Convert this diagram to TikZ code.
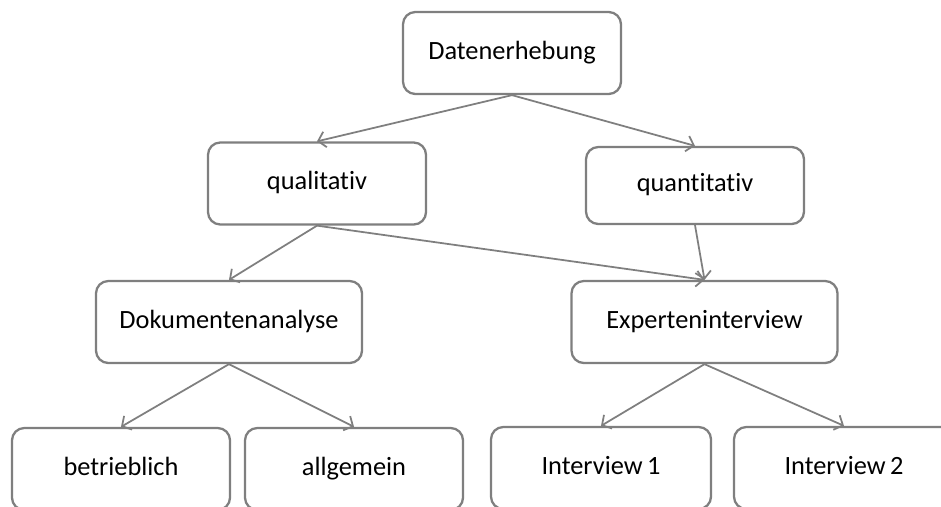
\documentclass[tikz,border=0pt]{standalone}
\usepackage{fontspec}
\setmainfont[Ligatures={NoCommon}]{Carlito}
\usepackage{tikz}
\usetikzlibrary{arrows.meta,positioning}
\definecolor{BoxGray}{HTML}{7F7F7F}

\begin{document}
\begin{tikzpicture}[
  box/.style={
    draw=BoxGray, line width=1.3pt, rounded corners=7pt, fill=white,
    minimum width=4.36cm, minimum height=1.64cm,
    text height=10.5pt, text depth=3.5pt,
    font=\fontsize{15}{17}\selectfont, align=center
  },
  wide/.style={box, minimum width=5.32cm},
  arr/.style={-{Straight Barb[length=4pt, width=9pt]}, line width=1pt, color=BoxGray}
]
\useasboundingbox (0,0) rectangle (18.82,10.12);
\clip (0,0) rectangle (18.82,10.12);

% top level
\node[box] (daten) at (10.24,9.06) {Datenerhebung};

% second level
\node[box] (quali) at (6.34,6.45) {qualitativ};
\node[box, minimum height=1.54cm] (quanti) at (13.90,6.41) {quantitativ};

% methods
\node[wide] (doku) at (4.58,3.68) {Dokumentenanalyse};
\node[wide] (experten) at (14.09,3.68) {Experteninterview};

% bottom row
\node[box] (betrieb) at (2.42,0.74) {betrieblich};
\node[box] (allg) at (7.08,0.74) {allgemein};
\node[box, minimum width=4.4cm] (inter1) at (12.02,0.76) {Interview\,1};
\node[box, minimum width=4.4cm] (inter2) at (16.88,0.76) {Interview\,2};

% connectors
\draw[arr] (daten.south) -- (quali.north);
\draw[arr] (daten.south) -- (quanti.north);
\draw[arr] (quali.south) -- (doku.north);
\draw[arr] (quali.south) -- (experten.north);
\draw[arr] (quanti.south) -- (experten.north);
\draw[arr] (doku.south) -- (betrieb.north);
\draw[arr] (doku.south) -- (allg.north);
\draw[arr] (experten.south) -- (inter1.north);
\draw[arr] (experten.south) -- (inter2.north);

\end{tikzpicture}
\end{document}
